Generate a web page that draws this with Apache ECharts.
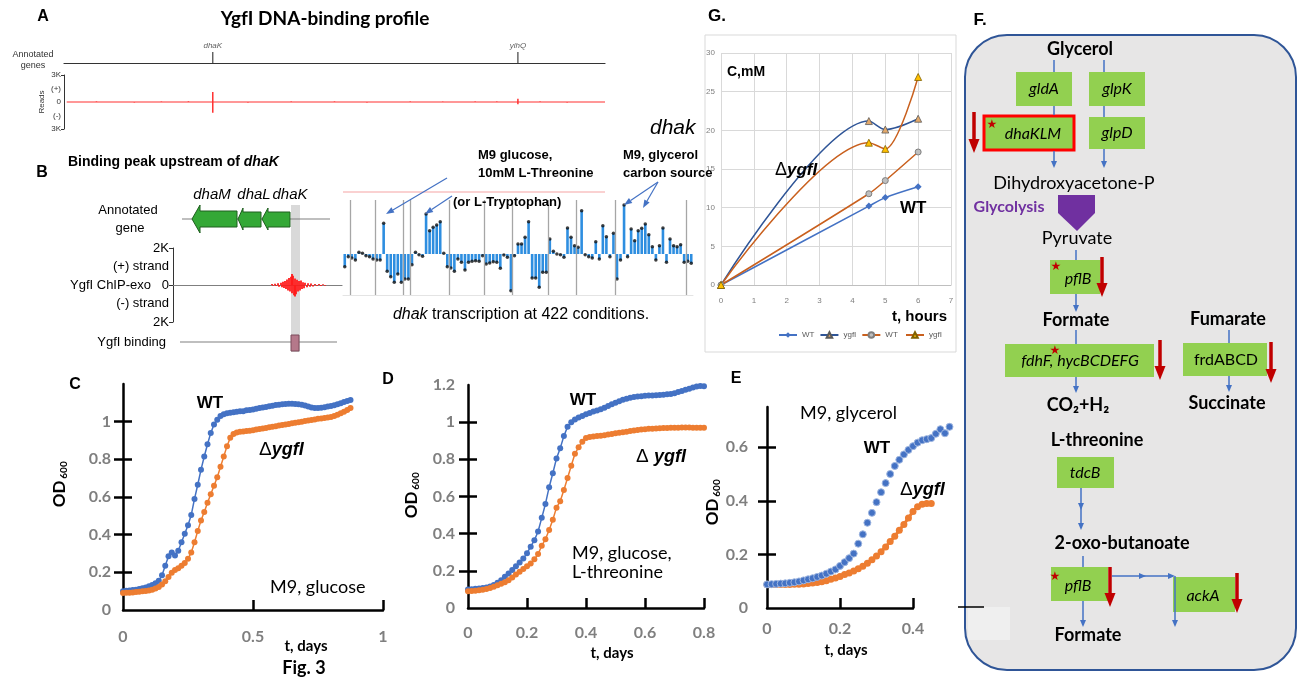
<!DOCTYPE html>
<html><head><meta charset="utf-8">
<script src="https://cdn.jsdelivr.net/npm/echarts@6/dist/echarts.min.js"></script>
<style>html,body{margin:0;padding:0;background:#fff}#c{width:1302px;height:681px}</style>
</head><body><div id="c"></div><script>
// ---------- DATA ----------
// Panel A: genome-wide YgfI ChIP-exo profile (positions in arbitrary kb, reads in K)
const profileRange = [5, 1000];
const geneNames = ['dhaK', 'yihQ'];
const genePos = [275, 839];
const profilePos = [60, 130, 180, 230, 275, 275, 340, 420, 500, 560, 640, 700, 760, 800, 839, 839, 880, 930];
const profileVal = [0.06, -0.05, 0.05, 0.07, 1.1, -1.2, -0.05, 0.05, 0.06, -0.05, 0.05, 0.04, 0.06, 0.05, 0.35, -0.25, 0.06, -0.05];
const aTickVals = [3, 1.5, 0, -1.5, -3];
const aTickLabels = ['3K', '(+)', '0', '(-)', '3K'];
// Panel B: binding peak (K reads)
const chipPlusPos = [99,102,105,108,110,112,114,116,118,119,120,122,124,126,128,130,132,135,138,142,146,150];
const chipPlusVal = [0.05,0.07,0.1,0.12,0.18,0.22,0.3,0.38,0.45,0.6,0.5,0.35,0.28,0.22,0.25,0.15,0.12,0.1,0.08,0.06,0.05,0.04];
const chipMinusPos = [100,103,106,109,111,113,115,117,119,121,122,123,125,127,129,131,134,137,140,144,148,152];
const chipMinusVal = [-0.04,-0.06,-0.09,-0.12,-0.16,-0.22,-0.3,-0.35,-0.45,-0.55,-0.62,-0.5,-0.35,-0.3,-0.22,-0.18,-0.12,-0.1,-0.08,-0.06,-0.05,-0.04];
const bTickVals = [2, 1, 0, -1, -2];
const bTickLabels = ['2K', '(+) strand', 'YgfI ChIP-exo   0', '(-) strand', '2K'];
// Panel B: dhaK transcription across conditions (relative units)
const dhakExpr = [-3.8,-0.8,-1.2,-1.8,0.5,0.2,-0.5,-0.8,-1.5,-1.8,-1.8,9.2,-5.2,-6.8,-8.5,-6.0,-8.5,-7.5,-7.5,-3.2,0.5,-0.2,-0.7,12.0,7.0,8.0,8.7,9.7,0.2,-3.8,-4.2,-5.2,-1.5,-2.5,-4.8,-2.5,-2.2,-2.0,-2.2,-0.5,-3.0,-2.7,-2.3,-2.5,-4.3,-0.3,-1.0,-11.0,-0.5,3.0,3.0,5.0,9.7,-7.2,-7.2,-10.0,-5.5,-5.5,4.5,0.8,0.0,-0.2,-1.0,7.8,5.0,2.5,2.0,13.0,-0.2,-0.8,-1.2,3.7,-1.5,8.5,5.2,-0.8,6.2,-7.5,-1.8,14.7,-0.8,7.5,4.0,7.0,7.7,9.0,5.8,2.2,-1.8,2.5,7.8,-2.5,4.5,2.5,2.2,2.8,-2.5,-2.2,-2.8];
const dhakSeparators = [1.5, 8.5, 16.5, 18.5, 29.5, 39.5, 47.5, 57.5, 65.5, 76.5, 96.5];
// Panel G: concentration (mM) vs hours
const gTimes = [0, 4.5, 5, 6];
const gWT1 = [0, 10.2, 11.3, 12.7];
const gKO1 = [0, 21.2, 20.1, 21.5];
const gWT2 = [0, 11.8, 13.5, 17.2];
const gKO2 = [0, 18.4, 17.6, 26.9];
// Panels C, D, E: OD600, sampled every DT days
const C_DT = 0.0125;
const cWT = [0.100,0.102,0.104,0.106,0.108,0.111,0.115,0.120,0.126,0.133,0.142,0.155,0.185,0.235,0.285,0.305,0.290,0.315,0.360,0.405,0.450,0.505,0.590,0.665,0.745,0.815,0.880,0.940,0.985,1.010,1.030,1.040,1.045,1.048,1.050,1.052,1.055,1.055,1.060,1.062,1.065,1.068,1.072,1.075,1.078,1.082,1.085,1.088,1.090,1.092,1.094,1.095,1.095,1.094,1.093,1.090,1.086,1.080,1.075,1.072,1.072,1.074,1.077,1.080,1.083,1.087,1.092,1.098,1.104,1.110,1.115];
const cKO = [0.090,0.091,0.092,0.093,0.095,0.097,0.099,0.101,0.104,0.108,0.114,0.122,0.135,0.152,0.175,0.198,0.212,0.222,0.235,0.250,0.272,0.305,0.360,0.420,0.475,0.520,0.570,0.615,0.660,0.705,0.760,0.815,0.870,0.915,0.935,0.942,0.946,0.948,0.950,0.952,0.955,0.958,0.961,0.964,0.967,0.970,0.973,0.976,0.979,0.982,0.985,0.988,0.991,0.994,0.997,1.000,1.003,1.006,1.009,1.012,1.015,1.017,1.020,1.022,1.025,1.030,1.037,1.045,1.053,1.062,1.072];
const D_DT = 0.0125;
const dWT = [0.100,0.101,0.103,0.105,0.107,0.110,0.116,0.124,0.136,0.150,0.168,0.186,0.204,0.224,0.245,0.266,0.295,0.330,0.365,0.412,0.485,0.560,0.650,0.725,0.805,0.860,0.925,0.975,1.000,1.015,1.025,1.033,1.042,1.050,1.057,1.063,1.070,1.078,1.087,1.096,1.105,1.113,1.120,1.126,1.131,1.135,1.138,1.140,1.142,1.143,1.144,1.145,1.146,1.148,1.150,1.152,1.156,1.162,1.168,1.174,1.180,1.186,1.192,1.195,1.193];
const dKO = [0.090,0.091,0.093,0.095,0.098,0.102,0.108,0.114,0.122,0.130,0.139,0.150,0.164,0.180,0.195,0.210,0.225,0.240,0.262,0.290,0.335,0.370,0.420,0.475,0.540,0.575,0.635,0.700,0.765,0.830,0.865,0.895,0.915,0.920,0.923,0.925,0.927,0.930,0.933,0.936,0.940,0.943,0.946,0.949,0.952,0.955,0.958,0.960,0.962,0.964,0.965,0.966,0.967,0.968,0.969,0.970,0.970,0.970,0.971,0.971,0.971,0.970,0.970,0.970,0.970];
const E_DT = 0.0125;
const eWT = [0.088,0.089,0.090,0.091,0.092,0.094,0.096,0.099,0.103,0.107,0.111,0.116,0.121,0.128,0.136,0.144,0.157,0.171,0.186,0.203,0.240,0.275,0.318,0.355,0.395,0.432,0.466,0.500,0.530,0.553,0.573,0.590,0.604,0.617,0.626,0.630,0.634,0.650,0.667,0.652,0.676];
const eKO = [0.088,0.088,0.088,0.088,0.088,0.088,0.089,0.089,0.090,0.091,0.093,0.095,0.098,0.102,0.107,0.112,0.118,0.125,0.131,0.138,0.146,0.156,0.167,0.180,0.194,0.210,0.228,0.248,0.268,0.290,0.312,0.336,0.360,0.378,0.387,0.390,0.390];
const cYLabels = [0, 0.2, 0.4, 0.6, 0.8, 1];
const cYTicks = [0.2, 0.4, 0.6, 0.8, 1];
const cXTicks = [0.5, 1];
const dYLabels = [0, 0.2, 0.4, 0.6, 0.8, 1, 1.2];
const dYTicks = [0.2, 0.4, 0.6, 0.8, 1];
const dXTicks = [0.2, 0.4, 0.6, 0.8];
const eYLabels = [0, 0.2, 0.4, 0.6];
const eYTicks = [0.2, 0.4, 0.6];
const eXTicks = [0.2, 0.4];

// ---------- HELPERS ----------
const ARIAL = '"Liberation Sans", Arial, sans-serif';
const CAL = 'Lato, "Liberation Sans", sans-serif';
const G = [];
function T(x, y, text, font, opt) {
  opt = opt || {};
  const st = {text: text, font: font, fill: opt.fill || '#000', align: opt.align || 'center', textAlign: opt.align || 'center', verticalAlign: 'middle', textVerticalAlign: 'middle'};
  if (opt.rich) st.rich = opt.rich;
  const el = {type: 'text', x: x, y: y, z: 20, style: st};
  if (opt.rotation) el.rotation = opt.rotation;
  G.push(el);
}
function L(x1, y1, x2, y2, color, lw, z) {
  G.push({type: 'line', z: z == null ? 15 : z, shape: {x1: x1, y1: y1, x2: x2, y2: y2}, style: {stroke: color, lineWidth: lw}});
}
function R(x, y, w, h, fill, stroke, lw, z, r) {
  G.push({type: 'rect', z: z == null ? 12 : z, shape: {x: x, y: y, width: w, height: h, r: r || 0}, style: {fill: fill, stroke: stroke || null, lineWidth: lw || 0}});
}
function head(x1, y1, x2, y2, color, hl, hw, z) {
  const a = Math.atan2(y2 - y1, x2 - x1);
  const bx = x2 - hl * Math.cos(a), by = y2 - hl * Math.sin(a);
  const px = -Math.sin(a) * hw / 2, py = Math.cos(a) * hw / 2;
  G.push({type: 'polygon', z: z == null ? 16 : z, shape: {points: [[x2, y2], [bx + px, by + py], [bx - px, by - py]]}, style: {fill: color}});
  return [bx, by];
}
function A(x1, y1, x2, y2, color, lw, hl, hw, z) {
  const b = head(x1, y1, x2, y2, color, hl, hw, z);
  L(x1, y1, b[0], b[1], color, lw, z);
}
function P(points, fill, stroke, lw, z) {
  G.push({type: 'polygon', z: z == null ? 14 : z, shape: {points: points}, style: {fill: fill, stroke: stroke || null, lineWidth: lw || 0}});
}
const BLUE = '#4472c4', RED = '#c00000', GREEN = '#92d050';
const dRich = (sz) => ({d: {fontSize: sz + 1, fontFamily: ARIAL, fill: '#000', color: '#000'}, g: {fontSize: sz, fontFamily: ARIAL, fontWeight: 'bold', fontStyle: 'italic', fill: '#000', color: '#000'}});

// ---------- GRAPHICS: panel A ----------
T(43, 17, 'A', 'bold 16px ' + ARIAL);
T(325, 19, 'YgfI DNA-binding profile', 'bold 19px ' + CAL);
T(33, 55, 'Annotated', '9px ' + ARIAL, {fill: '#333'});
T(33, 66, 'genes', '9px ' + ARIAL, {fill: '#333'});
// ---------- panel B ----------
T(42, 173, 'B', 'bold 16px ' + ARIAL);
T(68, 162, '{n|Binding peak upstream of }{i|dhaK}', '14px ' + ARIAL, {align: 'left', rich: {n: {fontSize: 14, fontWeight: 'bold', fontFamily: ARIAL, fill: '#000'}, i: {fontSize: 14, fontWeight: 'bold', fontStyle: 'italic', fontFamily: ARIAL, fill: '#000'}}});
T(128, 210, 'Annotated', '13px ' + ARIAL);
T(130, 228, 'gene', '13px ' + ARIAL);
T(166, 342, 'YgfI binding', '13px ' + ARIAL, {align: 'right'});
T(212, 195, 'dhaM', 'italic 15px ' + ARIAL);
T(254, 195, 'dhaL', 'italic 15px ' + ARIAL);
T(290, 195, 'dhaK', 'italic 15px ' + ARIAL);
R(291, 205, 9, 147, '#d9d9d9', null, 0, 0);
L(182, 219, 330, 219, '#808080', 1.2, 1);
P([[192,219],[200,205],[200,211],[237,211],[237,227],[200,227],[200,233]], '#34a836', '#1f5f1f', 1, 3);
P([[238,219],[243,208],[243,212],[261,212],[261,227],[243,227],[243,230]], '#34a836', '#1f5f1f', 1, 3);
P([[262,219],[268,208],[268,212],[290,212],[290,227],[268,227],[268,230]], '#34a836', '#1f5f1f', 1, 3);
L(180, 342, 337, 342, '#808080', 1.2, 1);
R(291, 335, 8, 16, '#b5788a', '#7a4a5a', 1, 3);
L(343, 192, 605, 192, '#f5a3a3', 1, 1);
T(478, 155, 'M9 glucose,', 'bold 13px ' + ARIAL, {align: 'left'});
T(478, 173, '10mM L-Threonine', 'bold 13px ' + ARIAL, {align: 'left'});
T(453, 202, '(or L-Tryptophan)', 'bold 13px ' + ARIAL, {align: 'left'});
T(623, 155, 'M9, glycerol', 'bold 13px ' + ARIAL, {align: 'left'});
T(623, 173, 'carbon source', 'bold 13px ' + ARIAL, {align: 'left'});
T(650, 128, 'dhak', 'italic 21px ' + ARIAL, {align: 'left'});
A(447, 178, 386, 214, BLUE, 1.2, 8, 6);
A(452, 196, 425, 214, BLUE, 1.2, 8, 6);
A(658, 182, 624, 205, BLUE, 1.2, 8, 6);
A(658, 182, 643, 208, BLUE, 1.2, 8, 6);
T(521, 315, '{i|dhak}{n| transcription at 422 conditions.}', '16px ' + ARIAL, {rich: {n: {fontSize: 16, fontFamily: ARIAL, fill: '#000'}, i: {fontSize: 16, fontStyle: 'italic', fontFamily: ARIAL, fill: '#000'}}});
// ---------- panel G ----------
R(705, 35, 251, 317, '#fff', '#d9d9d9', 1, 0);
T(717, 16, 'G.', 'bold 17px ' + ARIAL);
T(727, 72, 'C,mM', 'bold 14px ' + ARIAL, {align: 'left'});
T(775, 170, '{d|Δ}{g|ygfI}', '17px ' + ARIAL, {align: 'left', rich: dRich(17)});
T(900, 208, 'WT', 'bold 17px ' + ARIAL, {align: 'left'});
T(892, 317, 't, hours', 'bold 15px ' + ARIAL, {align: 'left'});
// ---------- panel C ----------
T(75, 385, 'C', 'bold 16px ' + ARIAL);
T(210, 403, 'WT', 'bold 17px ' + ARIAL);
T(259, 450, '{d|Δ}{g|ygfI}', '19px ' + ARIAL, {align: 'left', rich: dRich(18)});
T(270, 587, 'M9, glucose', '18px ' + CAL, {align: 'left'});
T(306, 646, 't, days', 'bold 15px ' + CAL);
T(304, 668, 'Fig. 3', 'bold 18px ' + CAL);
T(60, 494, 'OD', 'bold 17px ' + CAL, {rotation: Math.PI / 2});
T(64, 470, '600', 'bold 10px ' + CAL, {rotation: Math.PI / 2});
// ---------- panel D ----------
T(388, 380, 'D', 'bold 16px ' + ARIAL);
T(583, 400, 'WT', 'bold 17px ' + ARIAL);
T(636, 457, '{d|Δ }{g|ygfI}', '19px ' + ARIAL, {align: 'left', rich: dRich(18)});
T(572, 553, 'M9, glucose,', '18px ' + CAL, {align: 'left'});
T(572, 572, 'L-threonine', '18px ' + CAL, {align: 'left'});
T(612, 653, 't, days', 'bold 15px ' + CAL);
T(412, 505, 'OD', 'bold 17px ' + CAL, {rotation: Math.PI / 2});
T(416, 481, '600', 'bold 10px ' + CAL, {rotation: Math.PI / 2});
// ---------- panel E ----------
T(736, 379, 'E', 'bold 16px ' + ARIAL);
T(800, 413, 'M9, glycerol', '18px ' + CAL, {align: 'left'});
T(877, 448, 'WT', 'bold 17px ' + ARIAL);
T(900, 490, '{d|Δ}{g|ygfI}', '19px ' + ARIAL, {align: 'left', rich: dRich(18)});
T(846, 650, 't, days', 'bold 15px ' + CAL);
T(713, 512, 'OD', 'bold 17px ' + CAL, {rotation: Math.PI / 2});
T(717, 488, '600', 'bold 10px ' + CAL, {rotation: Math.PI / 2});
// ---------- panel F ----------
R(965, 35, 331, 635, '#e7e6e6', '#2f5597', 2, 1, 42);
T(980, 20, 'F.', 'bold 17px ' + ARIAL);
T(1080, 49, 'Glycerol', 'bold 18px ' + CAL);
L(1054, 60, 1054, 72, BLUE, 1.5);
L(1104, 60, 1104, 72, BLUE, 1.5);
R(1016, 72, 56, 34, GREEN); T(1044, 89, 'gldA', 'italic 16px ' + CAL);
R(1089, 72, 56, 34, GREEN); T(1117, 89, 'glpK', 'italic 16px ' + CAL);
L(1054, 106, 1054, 115, BLUE, 1.5);
L(1104, 106, 1104, 117, BLUE, 1.5);
R(984, 116, 90, 34, GREEN, '#ff0000', 3); T(1033, 134, 'dhaKLM', 'italic 16px ' + CAL);
T(992, 125, '★', '12px "DejaVu Sans"', {fill: RED});
R(1089, 117, 56, 32, GREEN); T(1117, 133, 'glpD', 'italic 16px ' + CAL);
A(974, 112, 974, 153, RED, 3.5, 14, 11);
A(1054, 151, 1054, 168, BLUE, 1.5, 7, 6);
A(1104, 149, 1104, 168, BLUE, 1.5, 7, 6);
T(1074, 183, 'Dihydroxyacetone-P', '18px ' + CAL);
T(1009, 207, 'Glycolysis', 'bold 16px ' + CAL, {fill: '#7030a0'});
P([[1058,195],[1095,195],[1095,213],[1077,231],[1058,213]], '#7030a0', null, 0, 14);
T(1077, 238, 'Pyruvate', '18px ' + CAL);
L(1076, 250, 1076, 260, BLUE, 1.5);
R(1050, 260, 50, 34, GREEN); T(1078, 279, 'pflB', 'italic 16px ' + CAL);
T(1056, 267, '★', '12px "DejaVu Sans"', {fill: RED});
A(1102, 257, 1102, 297, RED, 3.5, 14, 11);
A(1076, 294, 1076, 312, BLUE, 1.5, 7, 6);
T(1076, 320, 'Formate', 'bold 18px ' + CAL);
T(1228, 319, 'Fumarate', 'bold 18px ' + CAL);
L(1076, 330, 1076, 344, BLUE, 1.5);
L(1229, 330, 1229, 343, BLUE, 1.5);
R(1005, 344, 149, 33, GREEN); T(1080, 361, 'fdhF, hycBCDEFG', 'italic 16px ' + CAL);
T(1055, 351, '★', '12px "DejaVu Sans"', {fill: RED});
A(1160, 340, 1160, 380, RED, 3.5, 14, 11);
R(1183, 343, 84, 33, GREEN); T(1226, 360, 'frdABCD', '16px ' + CAL);
A(1271, 342, 1271, 383, RED, 3.5, 14, 11);
A(1076, 377, 1076, 393, BLUE, 1.5, 7, 6);
A(1229, 376, 1229, 392, BLUE, 1.5, 7, 6);
T(1078, 405, 'CO₂+H₂', 'bold 18px ' + CAL);
T(1227, 403, 'Succinate', 'bold 18px ' + CAL);
T(1097, 440, 'L-threonine', 'bold 18px ' + CAL);
R(1057, 457, 57, 31, GREEN); T(1085, 473, 'tdcB', 'italic 16px ' + CAL);
A(1081, 488, 1081, 530, BLUE, 1.5, 7, 6);
head(1081, 488, 1081, 510, BLUE, 7, 6);
T(1122, 543, '2-oxo-butanoate', 'bold 18px ' + CAL);
L(1083, 556, 1083, 567, BLUE, 1.5);
R(1051, 567, 57, 34, GREEN); T(1078, 586, 'pflB', 'italic 16px ' + CAL);
T(1055, 577, '★', '12px "DejaVu Sans"', {fill: RED});
A(1110, 567, 1110, 607, RED, 3.5, 14, 11);
R(1173, 577, 62, 35, GREEN); T(1203, 596, 'ackA', 'italic 16px ' + CAL);
A(1112, 576, 1175, 576, BLUE, 1.5, 7, 6);
head(1112, 576, 1146, 576, BLUE, 7, 6);
A(1175, 576, 1175, 627, BLUE, 1.5, 7, 6);
A(1237, 573, 1237, 613, RED, 3.5, 14, 11);
A(1083, 601, 1083, 627, BLUE, 1.5, 7, 6);
T(1088, 635, 'Formate', 'bold 18px ' + CAL);
R(968, 607, 42, 33, '#efefef', null, 0, 2);
L(958, 607, 984, 607, '#000', 1.5, 3);

// ---------- CHART ----------
const pairs = (xs, ys) => xs.map((x, i) => [x, ys[i]]);
const timed = (ys, dt) => ys.map((y, i) => [i * dt, y]);
const blk = '#000';
const tickStyle = {color: blk, width: 2.5};
function growthX(grid, max, interval, margin) {
  return {type: 'value', gridIndex: grid, position: 'bottom', min: 0, max: max, interval: interval,
    axisLine: {show: true, onZero: false, lineStyle: {color: blk, width: 2.5}},
    axisTick: {show: false},
    axisLabel: {color: '#7f7f7f', fontWeight: 'bold', fontSize: 16, fontFamily: CAL, margin: margin},
    splitLine: {show: false}};
}
function tickX(grid, max, interval, ticks) {
  return {type: 'value', gridIndex: grid, position: 'bottom', min: 0, max: max, interval: interval,
    axisLine: {show: false}, axisLabel: {show: false}, splitLine: {show: false},
    axisTick: {show: true, inside: true, length: 10, lineStyle: tickStyle, customValues: ticks}};
}
function growthY(grid, max, labels, margin) {
  return {type: 'value', gridIndex: grid, position: 'left', min: 0, max: max, interval: 0.2,
    axisLine: {show: true, onZero: false, lineStyle: {color: blk, width: 2.5}},
    axisTick: {show: false},
    axisLabel: {color: '#7f7f7f', fontWeight: 'bold', fontSize: 16, fontFamily: CAL, margin: margin, customValues: labels},
    splitLine: {show: false}};
}
function tickY(grid, max, ticks, inside) {
  return {type: 'value', gridIndex: grid, position: 'left', min: 0, max: max, interval: 0.2,
    axisLine: {show: false}, axisLabel: {show: false}, splitLine: {show: false},
    axisTick: {show: true, inside: inside, length: 9, lineStyle: tickStyle, customValues: ticks}};
}
function growthSeries(name, xi, yi, data, color, size, extra) {
  return Object.assign({type: 'line', name: name, xAxisIndex: xi, yAxisIndex: yi, data: data, symbol: 'circle', symbolSize: size,
    itemStyle: {color: color}, lineStyle: {color: color, width: 1.5}, clip: false, z: 3}, extra || {});
}

const option = {
  animation: false,
  backgroundColor: '#fff',
  graphic: {elements: G},
  legend: {data: ['WT', 'ygfI', 'WT ', 'ygfI '], left: 773, top: 326, itemWidth: 18, itemHeight: 7, itemGap: 5,
    textStyle: {fontSize: 8, color: '#595959', fontFamily: ARIAL}},
  grid: [
    {left: 64, right: 697, top: 75, height: 54},
    {left: 64, right: 697, top: 52, height: 11},
    {left: 173, right: 960, top: 248, height: 74},
    {left: 343, right: 609, top: 200, height: 95},
    {left: 721, right: 351, top: 53, height: 232},
    {left: 123, right: 919, top: 384, height: 226},
    {left: 468, right: 598, top: 385, height: 223},
    {left: 767, right: 389, top: 407, height: 201}
  ],
  xAxis: [
    {type: 'value', gridIndex: 0, min: 0, max: 1000, show: false},
    {type: 'value', gridIndex: 1, min: 0, max: 1000, axisLine: {show: true, onZero: false, lineStyle: {color: '#333', width: 1.2}}, axisTick: {show: false}, axisLabel: {show: false}, splitLine: {show: false}},
    {type: 'value', gridIndex: 2, min: 0, max: 169, axisLine: {show: true, onZero: true, lineStyle: {color: '#7f7f7f', width: 1.2}}, axisTick: {show: false}, axisLabel: {show: false}, splitLine: {show: false}},
    {type: 'value', gridIndex: 3, min: -0.5, max: 98.5, axisLine: {show: true, onZero: false, lineStyle: {color: '#e4e4e4', width: 1}}, axisTick: {show: false}, axisLabel: {show: false}, splitLine: {show: false}},
    {type: 'value', gridIndex: 4, min: 0, max: 7, interval: 1, axisLine: {show: true, lineStyle: {color: '#bfbfbf'}}, axisTick: {show: false},
      axisLabel: {fontSize: 8, color: '#7f7f7f', margin: 12, fontFamily: ARIAL}, splitLine: {show: true, lineStyle: {color: '#d9d9d9'}}},
    growthX(5, 1, 0.5, 19),
    growthX(6, 0.8, 0.2, 17),
    growthX(7, 0.4, 0.2, 13),
    tickX(5, 1, 0.5, cXTicks),
    tickX(6, 0.8, 0.2, dXTicks),
    tickX(7, 0.4, 0.2, eXTicks)
  ],
  yAxis: [
    {type: 'value', gridIndex: 0, min: -3, max: 3, interval: 1.5,
      axisLine: {show: true, lineStyle: {color: '#333', width: 1}}, axisTick: {show: true, length: 3, customValues: [-3, 3], lineStyle: {color: '#333'}},
      axisLabel: {fontSize: 8, color: '#333', margin: 3, fontFamily: ARIAL, formatter: (v) => aTickLabels[aTickVals.indexOf(v)] || ''},
      splitLine: {show: false}, name: 'Reads', nameLocation: 'middle', nameRotate: 90, nameGap: 18, nameTextStyle: {fontSize: 8, color: '#333', fontFamily: ARIAL}},
    {type: 'value', gridIndex: 1, min: 0, max: 1, show: false},
    {type: 'value', gridIndex: 2, min: -2, max: 2, interval: 1,
      axisLine: {show: true, lineStyle: {color: '#333', width: 1}}, axisTick: {show: true, length: 4, customValues: [-2, 0, 2], lineStyle: {color: '#333'}},
      axisLabel: {fontSize: 13, color: '#000', margin: 4, fontFamily: ARIAL, formatter: (v) => bTickLabels[bTickVals.indexOf(v)] || ''},
      splitLine: {show: false}},
    {type: 'value', gridIndex: 3, min: -12.3, max: 16.2, show: false},
    {type: 'value', gridIndex: 4, min: 0, max: 30, interval: 5, axisLine: {show: false}, axisTick: {show: false},
      axisLabel: {fontSize: 8, color: '#7f7f7f', margin: 6, fontFamily: ARIAL}, splitLine: {show: true, lineStyle: {color: '#d9d9d9'}}},
    growthY(5, 1.2, cYLabels, 12),
    tickY(5, 1.2, cYTicks, true),
    growthY(6, 1.2, dYLabels, 13),
    tickY(6, 1.2, dYTicks, true),
    growthY(7, 0.75, eYLabels, 19),
    tickY(7, 0.75, eYTicks, true),
    tickY(5, 1.2, cYTicks, false),
    tickY(6, 1.2, dYTicks, false),
    tickY(7, 0.75, eYTicks, false)
  ],
  series: [
    {type: 'line', name: 'profile base', xAxisIndex: 0, yAxisIndex: 0, data: profileRange.map(x => [x, 0]), symbol: 'none', lineStyle: {color: '#ff3030', width: 1.2}, z: 3},
    {type: 'bar', name: 'profile', xAxisIndex: 0, yAxisIndex: 0, data: pairs(profilePos, profileVal), barWidth: 1.5, itemStyle: {color: '#ff3030'}, z: 3},
    {type: 'scatter', name: 'genes', xAxisIndex: 1, yAxisIndex: 1, data: geneNames.map((n, i) => ({name: n, value: [genePos[i], 0.5]})),
      symbol: 'rect', symbolSize: [1.2, 11], itemStyle: {color: '#111'},
      label: {show: true, position: 'top', distance: 2, formatter: '{b}', fontSize: 8, fontStyle: 'italic', color: '#333', fontFamily: ARIAL}},
    {type: 'bar', name: 'chip plus', xAxisIndex: 2, yAxisIndex: 2, data: pairs(chipPlusPos, chipPlusVal), barWidth: 1.8, itemStyle: {color: '#ff1a1a'}, z: 3},
    {type: 'bar', name: 'chip minus', xAxisIndex: 2, yAxisIndex: 2, data: pairs(chipMinusPos, chipMinusVal), barWidth: 1.8, barGap: '-100%', itemStyle: {color: '#ff1a1a'}, z: 3},
    {type: 'bar', name: 'dhak expr', xAxisIndex: 3, yAxisIndex: 3, data: dhakExpr.map((v, i) => [i, v]), barWidth: 2.6, itemStyle: {color: '#2e8ee0'},
      markLine: {silent: true, symbol: 'none', label: {show: false}, lineStyle: {color: '#a6a6a6', width: 1.3, type: 'solid'}, data: dhakSeparators.map(x => ({xAxis: x}))}},
    {type: 'scatter', name: 'dhak dots', xAxisIndex: 3, yAxisIndex: 3, data: dhakExpr.map((v, i) => [i, v]), symbolSize: 3.5, itemStyle: {color: '#111'}, z: 4},
    {type: 'line', name: 'WT', xAxisIndex: 4, yAxisIndex: 4, data: pairs(gTimes, gWT1), smooth: 0.3, symbol: 'diamond', symbolSize: 7,
      itemStyle: {color: '#4472c4'}, lineStyle: {color: '#4472c4', width: 1.5}},
    {type: 'line', name: 'ygfI', xAxisIndex: 4, yAxisIndex: 4, data: pairs(gTimes, gKO1), smooth: 0.3, symbol: 'triangle', symbolSize: 7,
      itemStyle: {color: '#e2a86a', borderColor: '#5a5a5a', borderWidth: 0.8}, lineStyle: {color: '#2f5597', width: 1.5}},
    {type: 'line', name: 'WT ', xAxisIndex: 4, yAxisIndex: 4, data: pairs(gTimes, gWT2), smooth: 0.3, symbol: 'circle', symbolSize: 6,
      itemStyle: {color: '#bfbfbf', borderColor: '#7f7f7f', borderWidth: 1}, lineStyle: {color: '#c9601e', width: 1.5}},
    {type: 'line', name: 'ygfI ', xAxisIndex: 4, yAxisIndex: 4, data: pairs(gTimes, gKO2), smooth: 0.3, symbol: 'triangle', symbolSize: 7,
      itemStyle: {color: '#ffc000', borderColor: '#7f6000', borderWidth: 0.8}, lineStyle: {color: '#c9601e', width: 1.5}},
    growthSeries('C wt', 5, 5, timed(cWT, C_DT), '#4472c4', 6),
    growthSeries('C ko', 5, 5, timed(cKO, C_DT), '#ed7d31', 6),
    growthSeries('D wt', 6, 7, timed(dWT, D_DT), '#4472c4', 6),
    growthSeries('D ko', 6, 7, timed(dKO, D_DT), '#ed7d31', 6),
    growthSeries('E ko', 7, 9, timed(eKO, E_DT), '#ed7d31', 7, {lineStyle: {color: '#ed7d31', width: 3}}),
    growthSeries('E wt', 7, 9, timed(eWT, E_DT), '#4472c4', 7, {lineStyle: {width: 0}, itemStyle: {color: '#4472c4', borderColor: '#9db5e0', borderWidth: 1}})
  ]
};
const chart = echarts.init(document.getElementById('c'), null, {width: 1302, height: 681});
chart.setOption(option);
</script></body></html>
